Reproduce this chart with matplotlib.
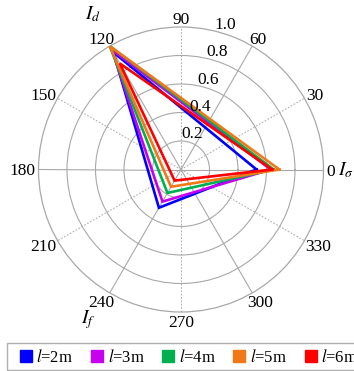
import numpy as np
import matplotlib
matplotlib.use("Agg")
import matplotlib.pyplot as plt
from matplotlib.lines import Line2D
from matplotlib.patches import Rectangle

plt.rcParams['font.family'] = ['Liberation Serif', 'DejaVu Serif']
plt.rcParams['mathtext.fontset'] = 'stix'

# data
axis_angles_deg = [0, 120, 240]           # I_sigma, I_d, I_f
series_labels = ['2m', '3m', '4m', '5m', '6m']
series_colors = ['#0000ff', '#c800f0', '#00b050', '#f07818', '#ff0000']
I_sigma = [0.53, 0.63, 0.65, 0.69, 0.64]
I_d     = [0.95, 0.97, 1.00, 1.00, 0.86]
I_f     = [0.31, 0.26, 0.19, 0.14, 0.09]
r_ticks = [0.2, 0.4, 0.6, 0.8, 1.0]
theta_ticks = list(range(0, 360, 30))

W, H = 354, 371
fig = plt.figure(figsize=(W/100, H/100), dpi=100)
cx, cy, R = 181, 169.5, 142.5
ax = fig.add_axes([(cx-R)/W, 1 - (cy+R)/H, 2*R/W, 2*R/H], projection='polar')

th = np.deg2rad(axis_angles_deg + [axis_angles_deg[0]])
for i in range(len(series_labels)):
    r = [I_sigma[i], I_d[i], I_f[i], I_sigma[i]]
    ax.plot(th, r, color=series_colors[i], lw=1.9, zorder=3, solid_joinstyle='miter')

ax.set_ylim(0, 1.0)
ax.set_yticks(r_ticks[:-1])
ax.set_yticklabels([])
ax.set_xticks(np.deg2rad(theta_ticks))
ax.set_xticklabels([])
ax.tick_params(axis='x', length=0)
ax.grid(True, color='#a8a8a8', lw=0.8)
for t, gl in zip(theta_ticks, ax.xaxis.get_gridlines()):
    if t % 60 == 30:
        gl.set_linestyle((0, (1.5, 1.5)))
        gl.set_color('#b0b0b0')
ax.spines['polar'].set_color('#a8a8a8')
ax.spines['polar'].set_linewidth(0.9)

# angle labels placed just outside the outer ring
fs = 12.5
gap = 3.0  # px
for t in theta_ticks:
    a = np.deg2rad(t)
    c, s = np.cos(a), np.sin(a)
    txt = str(t)
    w = len(txt) * 0.5 * fs * 100 / 72
    h = 0.72 * fs * 100 / 72
    dx = gap * c + 0.5 * w * c
    dy = gap * s + 0.5 * h * s
    ax.annotate(txt, xy=(a, 1.0), xytext=(dx * 0.72, dy * 0.72),
                textcoords='offset points', ha='center', va='center_baseline',
                fontsize=fs, annotation_clip=False)

for rv in r_ticks:
    ax.text(np.deg2rad(73), rv + 0.06, f"{rv:.1f}", fontsize=fs,
            ha='center', va='center', zorder=4)

fig.text(93/W, 1 - 14/H, r'$I_d$', fontsize=14, ha='center', va='center')
fig.text(346/W, 1 - 170/H, r'$I_\sigma$', fontsize=14, ha='center', va='center')
fig.text(88/W, 1 - 320/H, r'$I_f$', fontsize=14, ha='center', va='center')

# legend
fig.patches.append(Rectangle((7/W, 1 - 370/H), 400/W, 27/H, transform=fig.transFigure,
                             fill=False, edgecolor='#b0b0b0', lw=1.0))
handles = [Line2D([], [], ls='none', marker='s', markersize=8, color=c)
           for c in series_colors]
labels = [r'$l$=' + s for s in series_labels]
fig.legend(handles, labels, loc='center left', bbox_to_anchor=(19/W, 1 - 357/H),
           ncol=5, fontsize=12, frameon=False,
           handlelength=0.8, handletextpad=0.25, columnspacing=1.0,
           borderpad=0, borderaxespad=0)

fig.savefig('out.png', dpi=100)
